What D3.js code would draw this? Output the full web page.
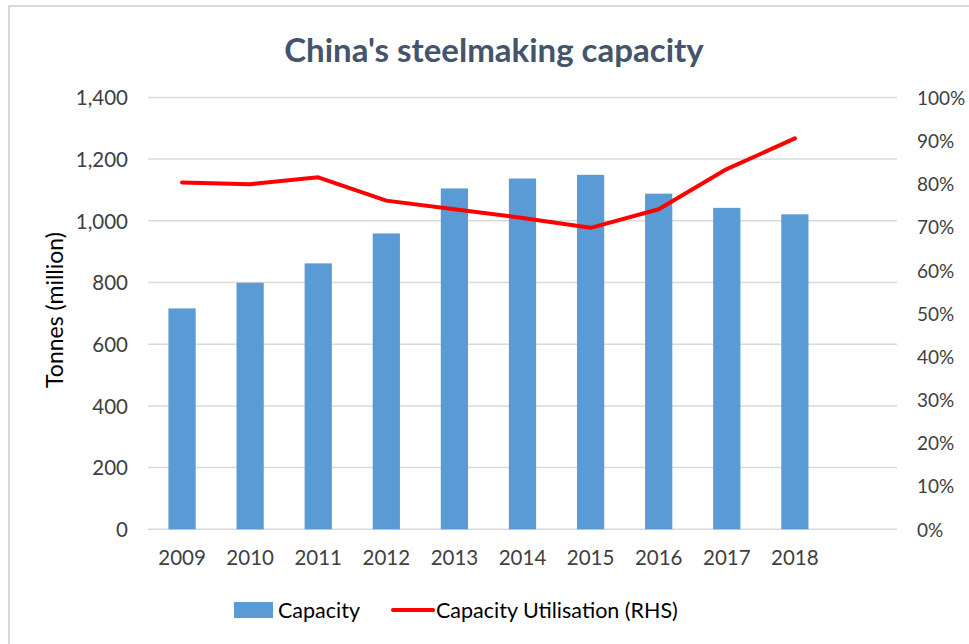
<!DOCTYPE html>
<html>
<head>
<meta charset="utf-8">
<script src="https://cdn.jsdelivr.net/npm/d3@7"></script>
<style>
  html, body { margin: 0; padding: 0; background: #fff; }
  svg { display: block; }
</style>
</head>
<body>
<svg id="chart" width="969" height="644"></svg>
<script>
const years = ["2009", "2010", "2011", "2012", "2013", "2014", "2015", "2016", "2017", "2018"];
const capacity = [716, 799, 862, 959, 1105, 1137, 1149, 1088, 1042, 1021];
const utilisation = [0.803, 0.799, 0.815, 0.761, 0.741, 0.721, 0.698, 0.741, 0.834, 0.905];
const leftTicks = [0, 200, 400, 600, 800, 1000, 1200, 1400];
const rightTicks = [0, 0.1, 0.2, 0.3, 0.4, 0.5, 0.6, 0.7, 0.8, 0.9, 1.0];

const svg = d3.select("#chart");
const W = 969, H = 644;
const m = { left: 148, right: 897, top: 97.4, bottom: 529.3 };
const font = "Lato, 'Open Sans', sans-serif";
const textColor = "#404040";

// border of chart area
svg.append("rect").attr("x", 9).attr("y", 6).attr("width", W + 20).attr("height", H + 20)
  .attr("fill", "#fff").attr("stroke", "#d9d9d9").attr("stroke-width", 2);

// title
svg.append("text").attr("x", 494).attr("y", 62).attr("text-anchor", "middle")
  .attr("font-family", font).attr("font-weight", "bold").attr("font-size", 33)
  .attr("fill", "#44546A").text("China's steelmaking capacity");

const x = d3.scaleBand().domain([...years, ""]).range([m.left, m.right])
  .paddingInner(0.6).paddingOuter(0.3);
const yL = d3.scaleLinear().domain([0, 1400]).range([m.bottom, m.top]);
const yR = d3.scaleLinear().domain([0, 1]).range([m.bottom, m.top]);

// gridlines
svg.append("g").selectAll("line").data(leftTicks).join("line")
  .attr("x1", m.left).attr("x2", m.right)
  .attr("y1", d => yL(d)).attr("y2", d => yL(d))
  .attr("stroke", "#d9d9d9").attr("stroke-width", 1.5);

// left axis
const gL = svg.append("g").attr("transform", `translate(${m.left - 20},0)`)
  .call(d3.axisLeft(yL).tickValues(leftTicks).tickSize(0).tickPadding(0).tickFormat(d3.format(",")));
gL.select(".domain").remove();
gL.selectAll("text").attr("font-family", font).attr("font-size", 20.5).attr("fill", textColor).attr("dy", "0.36em");

// right axis
const gR = svg.append("g").attr("transform", `translate(${m.right + 20},0)`)
  .call(d3.axisRight(yR).tickValues(rightTicks).tickSize(0).tickPadding(0).tickFormat(d3.format(".0%")));
gR.select(".domain").remove();
gR.selectAll("text").attr("font-family", font).attr("font-size", 19).attr("fill", textColor).attr("dy", "0.36em");

// bottom axis
const gB = svg.append("g").attr("transform", `translate(0,${m.bottom + 17})`)
  .call(d3.axisBottom(x).tickValues(years).tickSize(0).tickPadding(0));
gB.select(".domain").remove();
gB.selectAll("text").attr("font-family", font).attr("font-size", 20.5).attr("fill", textColor).attr("dy", "0.9em");

// y axis title
svg.append("text").attr("transform", `translate(63,310) rotate(-90)`)
  .attr("text-anchor", "middle").attr("font-family", font).attr("font-size", 23)
  .attr("fill", "#000").text("Tonnes (million)");

// bars
svg.append("g").selectAll("rect").data(years).join("rect")
  .attr("x", d => x(d)).attr("width", x.bandwidth())
  .attr("y", (d, i) => yL(capacity[i])).attr("height", (d, i) => yL(0) - yL(capacity[i]))
  .attr("fill", "#5B9BD5");

// line
const line = d3.line().x((d, i) => x(years[i]) + x.bandwidth() / 2).y(d => yR(d));
svg.append("path").datum(utilisation).attr("d", line)
  .attr("fill", "none").attr("stroke", "#FF0000").attr("stroke-width", 4)
  .attr("stroke-linejoin", "round").attr("stroke-linecap", "round");

// legend
const lg = svg.append("g");
lg.append("rect").attr("x", 234).attr("y", 602).attr("width", 39).attr("height", 16).attr("fill", "#5B9BD5");
lg.append("text").attr("x", 278).attr("y", 618).attr("font-family", font).attr("font-size", 21.5)
  .attr("fill", "#000").text("Capacity");
lg.append("line").attr("x1", 393).attr("x2", 433).attr("y1", 610).attr("y2", 610)
  .attr("stroke", "#FF0000").attr("stroke-width", 4).attr("stroke-linecap", "round");
lg.append("text").attr("x", 436).attr("y", 618).attr("font-family", font).attr("font-size", 21.5)
  .attr("fill", "#000").text("Capacity Utilisation (RHS)");
</script>
</body>
</html>
